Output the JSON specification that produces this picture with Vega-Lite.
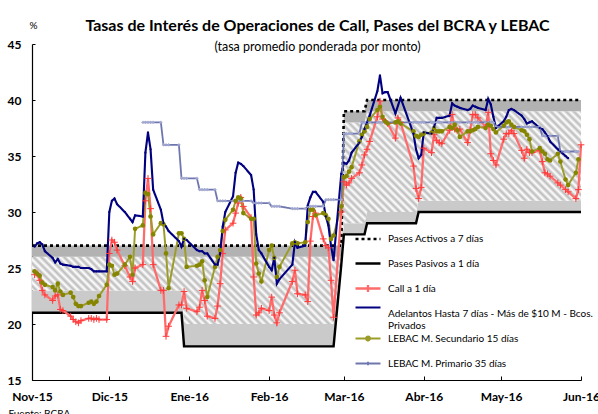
{
"$schema": "https://vega.github.io/schema/vega-lite/v6.json",
"width": 549, "height": 336, "autosize": "none",
"padding": {"left": 32, "top": 44, "right": 17, "bottom": 34},
"background": "white",
"config": {"view": {"stroke": null}, "font": "Lato"},
"title": {"text": "Tasas de Interés de Operaciones de Call, Pases del BCRA y LEBAC", "subtitle": "(tasa promedio ponderada por monto)", "font": "Lato", "fontSize": 16, "fontWeight": "bold", "color": "black", "subtitleFont": "Lato", "subtitleFontSize": 12.5, "subtitleColor": "black", "subtitlePadding": 7, "anchor": "middle", "offset": -33, "dx": 11},
"datasets": {
"corr": [
{"d":"2015-11-01","act7":27,"act1":26,"pas7":23,"pas1":21},
{"d":"2015-12-29","act7":27,"act1":26,"pas7":23,"pas1":21},
{"d":"2015-12-30","act7":27,"act1":26,"pas7":20,"pas1":18},
{"d":"2016-02-26","act7":27,"act1":26,"pas7":20,"pas1":18},
{"d":"2016-02-29","act7":27,"act1":26,"pas7":26,"pas1":25.3},
{"d":"2016-03-01","act7":39,"act1":38,"pas7":29,"pas1":28},
{"d":"2016-03-09","act7":39,"act1":38,"pas7":29,"pas1":28},
{"d":"2016-03-10","act7":40,"act1":39,"pas7":30,"pas1":29},
{"d":"2016-03-29","act7":40,"act1":39,"pas7":30,"pas1":29},
{"d":"2016-03-30","act7":40,"act1":39,"pas7":31,"pas1":30},
{"d":"2016-06-01","act7":40,"act1":39,"pas7":31,"pas1":30}
],
"ser": [
{"d":"2015-11-02","call":24.4,"adel":26.9,"lsec":24.7},
{"d":"2015-11-03","call":24.5,"adel":27.2,"lsec":24.5},
{"d":"2015-11-04","call":23.9,"adel":27.3,"lsec":24.3},
{"d":"2015-11-05","call":23.0,"adel":27.1,"lsec":23.7},
{"d":"2015-11-06","call":22.6,"adel":26.5,"lsec":23.5},
{"d":"2015-11-09","call":22.1,"adel":25.9,"lsec":23.3},
{"d":"2015-11-10","call":22.5,"adel":25.5,"lsec":23.0},
{"d":"2015-11-11","call":22.6,"adel":25.8,"lsec":23.6},
{"d":"2015-11-12","call":21.3,"adel":25.4,"lsec":22.9},
{"d":"2015-11-13","call":21.2,"adel":25.3,"lsec":22.6},
{"d":"2015-11-16","call":20.7,"adel":25.2,"lsec":22.8},
{"d":"2015-11-17","call":20.4,"adel":25.1,"lsec":22.4},
{"d":"2015-11-18","call":20.2,"adel":25.1,"lsec":21.8},
{"d":"2015-11-19","call":20.1,"adel":25.1,"lsec":21.6},
{"d":"2015-11-20","call":20.3,"adel":25.0,"lsec":21.6},
{"d":"2015-11-23","call":20.5,"adel":25.0,"lsec":21.9},
{"d":"2015-11-24","call":20.5,"adel":24.9,"lsec":22.0},
{"d":"2015-11-25","call":20.4,"adel":24.7,"lsec":21.8},
{"d":"2015-11-26","call":20.5,"adel":24.7,"lsec":22.0},
{"d":"2015-11-27","call":20.4,"adel":24.7,"lsec":22.5},
{"d":"2015-11-30","call":20.4,"adel":24.7,"lsec":23.5},
{"d":"2015-12-01","call":26.3,"adel":30.0,"lsec":25.3},
{"d":"2015-12-02","call":27.5,"adel":31.0,"lsec":25.2},
{"d":"2015-12-03","call":27.3,"adel":31.2,"lsec":24.4},
{"d":"2015-12-04","call":26.6,"adel":30.7,"lsec":24.5},
{"d":"2015-12-07","call":25.2,"adel":30.0,"lsec":25.3},
{"d":"2015-12-09","call":24.2,"adel":29.4,"lsec":26.0},
{"d":"2015-12-10","call":23.8,"adel":29.1,"lsec":24.4},
{"d":"2015-12-11","call":25.0,"adel":29.7,"lsec":28.5},
{"d":"2015-12-14","call":25.3,"adel":29.6,"lsec":28.8,"lpri":38},
{"d":"2015-12-15","call":31.0,"adel":35.3,"lsec":31.7,"lpri":38},
{"d":"2015-12-16","call":33.0,"adel":37.1,"lsec":31.6,"lpri":38},
{"d":"2015-12-17","call":30.3,"adel":35.6,"lsec":29.6,"lpri":38},
{"d":"2015-12-18","call":25.3,"adel":32.0,"lsec":28.0,"lpri":38},
{"d":"2015-12-21","call":23.0,"adel":30.2,"lsec":29.0,"lpri":38},
{"d":"2015-12-22","call":23.0,"adel":29.0,"lsec":28.9,"lpri":36},
{"d":"2015-12-23","call":18.9,"adel":28.7,"lsec":26.3,"lpri":36},
{"d":"2015-12-24","call":19.8,"adel":28.3,"lsec":23.2,"lpri":36},
{"d":"2015-12-28","call":21.7,"adel":27.4,"lsec":28.1,"lpri":36},
{"d":"2015-12-29","call":21.7,"adel":26.9,"lsec":28.1,"lpri":33},
{"d":"2015-12-30","call":22.9,"adel":27.6,"lsec":27.6,"lpri":33},
{"d":"2015-12-31","call":21.4,"adel":27.5,"lsec":25.1,"lpri":33},
{"d":"2016-01-04","call":21.1,"adel":26.6,"lsec":25.2,"lpri":33},
{"d":"2016-01-05","call":21.5,"adel":26.5,"lsec":25.3,"lpri":32},
{"d":"2016-01-06","call":23.0,"adel":26.5,"lsec":25.6,"lpri":32},
{"d":"2016-01-07","call":22.1,"adel":26.3,"lsec":23.9,"lpri":32},
{"d":"2016-01-08","call":20.7,"adel":26.3,"lsec":22.4,"lpri":32},
{"d":"2016-01-11","call":20.5,"adel":25.3,"lsec":25.1,"lpri":32},
{"d":"2016-01-12","call":21.6,"adel":25.3,"lsec":26.0,"lpri":31},
{"d":"2016-01-13","call":23.6,"adel":26.3,"lsec":26.6,"lpri":31},
{"d":"2016-01-14","call":26.3,"adel":28.7,"lsec":28.3,"lpri":31},
{"d":"2016-01-15","call":28.4,"adel":30.0,"lsec":29.3,"lpri":31},
{"d":"2016-01-18","call":29.0,"adel":31.4,"lsec":30.2,"lpri":31},
{"d":"2016-01-19","call":29.9,"adel":33.5,"lsec":31.0,"lpri":31},
{"d":"2016-01-20","call":30.8,"adel":34.4,"lsec":31.3,"lpri":31},
{"d":"2016-01-21","call":31.3,"adel":34.3,"lsec":31.2,"lpri":31},
{"d":"2016-01-22","call":30.5,"adel":34.1,"lsec":29.9,"lpri":31},
{"d":"2016-01-25","call":29.5,"adel":33.3,"lsec":29.4,"lpri":31},
{"d":"2016-01-26","call":24.2,"adel":32.0,"lsec":29.4,"lpri":30.8},
{"d":"2016-01-27","call":20.8,"adel":28.0,"lsec":25.4,"lpri":30.8},
{"d":"2016-01-28","call":21.0,"adel":26.6,"lsec":24.5,"lpri":30.8},
{"d":"2016-01-29","call":21.4,"adel":26.3,"lsec":23.8,"lpri":30.8},
{"d":"2016-02-01","call":21.2,"adel":25.1,"lsec":26.6,"lpri":30.8},
{"d":"2016-02-02","call":22.4,"adel":24.8,"lsec":27.0,"lpri":30.5},
{"d":"2016-02-03","call":20.8,"adel":25.9,"lsec":25.9,"lpri":30.5},
{"d":"2016-02-04","call":20.1,"adel":23.6,"lsec":24.2,"lpri":30.5},
{"d":"2016-02-05","call":21.0,"adel":24.0,"lsec":25.1,"lpri":30.5},
{"d":"2016-02-10","call":23.8,"adel":25.3,"lsec":27.2,"lpri":30.3},
{"d":"2016-02-11","call":24.8,"adel":27.3,"lsec":27.3,"lpri":30.3},
{"d":"2016-02-12","call":22.7,"adel":26.8,"lsec":27.2,"lpri":30.3},
{"d":"2016-02-15","call":22.6,"adel":27.0,"lsec":27.3,"lpri":30.3},
{"d":"2016-02-16","call":22.0,"adel":30.6,"lsec":29.1,"lpri":30.5},
{"d":"2016-02-17","call":27.4,"adel":31.3,"lsec":30.2,"lpri":30.5},
{"d":"2016-02-18","call":29.6,"adel":31.8,"lsec":30.2,"lpri":30.5},
{"d":"2016-02-19","call":29.9,"adel":31.8,"lsec":29.7,"lpri":30.5},
{"d":"2016-02-22","call":27.6,"adel":30.9,"lsec":29.9,"lpri":30.5},
{"d":"2016-02-23","call":27.0,"adel":29.6,"lsec":29.7,"lpri":31.1},
{"d":"2016-02-24","call":26.8,"adel":28.8,"lsec":29.4,"lpri":31.1},
{"d":"2016-02-25","call":23.9,"adel":27.0,"lsec":27.6,"lpri":31.1},
{"d":"2016-02-26","call":20.6,"adel":25.7,"lsec":27.9,"lpri":31.1},
{"d":"2016-02-29","call":30.0,"adel":33.4,"lsec":30.5,"lpri":31.1},
{"d":"2016-03-01","call":32.7,"adel":34.4,"lsec":33.1,"lpri":37},
{"d":"2016-03-02","call":32.4,"adel":34.3,"lsec":33.2,"lpri":37},
{"d":"2016-03-03","call":32.6,"adel":34.6,"lsec":33.6,"lpri":37},
{"d":"2016-03-04","call":33.0,"adel":35.3,"lsec":34.0,"lpri":37},
{"d":"2016-03-07","call":33.5,"adel":36.2,"lsec":36.3,"lpri":37},
{"d":"2016-03-08","call":34.2,"adel":36.7,"lsec":36.9,"lpri":38},
{"d":"2016-03-09","call":35.1,"adel":37.4,"lsec":37.2,"lpri":38},
{"d":"2016-03-10","call":35.6,"adel":38.0,"lsec":37.6,"lpri":38},
{"d":"2016-03-11","call":36.3,"adel":38.6,"lsec":38.3,"lpri":38},
{"d":"2016-03-14","call":38.5,"adel":40.8,"lsec":39.1,"lpri":38},
{"d":"2016-03-15","call":39.9,"adel":42.2,"lsec":39.4,"lpri":38},
{"d":"2016-03-16","call":38.3,"adel":40.6,"lsec":38.5,"lpri":38},
{"d":"2016-03-17","call":38.1,"adel":40.7,"lsec":38.1,"lpri":38},
{"d":"2016-03-18","call":37.9,"adel":40.7,"lsec":37.9,"lpri":38},
{"d":"2016-03-21","call":36.6,"adel":38.8,"lsec":38.0,"lpri":38},
{"d":"2016-03-22","call":38.4,"adel":39.5,"lsec":38.1,"lpri":38},
{"d":"2016-03-23","call":38.0,"adel":40.2,"lsec":37.9,"lpri":38},
{"d":"2016-03-28","call":34.1,"adel":37.0,"lsec":37.2,"lpri":38},
{"d":"2016-03-29","call":32.1,"adel":35.6,"lsec":36.8,"lpri":38},
{"d":"2016-03-30","call":31.2,"adel":34.8,"lsec":36.7,"lpri":38},
{"d":"2016-03-31","call":32.2,"adel":35.1,"lsec":36.9,"lpri":38},
{"d":"2016-04-01","call":35.7,"adel":37.1,"lsec":37.0,"lpri":38},
{"d":"2016-04-04","call":35.3,"adel":37.0,"lsec":37.1,"lpri":38},
{"d":"2016-04-05","call":36.9,"adel":37.6,"lsec":37.5,"lpri":38},
{"d":"2016-04-06","call":36.4,"adel":38.4,"lsec":37.2,"lpri":38},
{"d":"2016-04-07","call":36.2,"adel":38.4,"lsec":37.2,"lpri":38},
{"d":"2016-04-08","call":36.1,"adel":38.4,"lsec":37.2,"lpri":38},
{"d":"2016-04-11","call":37.3,"adel":38.6,"lsec":37.6,"lpri":38},
{"d":"2016-04-12","call":38.7,"adel":39.7,"lsec":37.5,"lpri":38},
{"d":"2016-04-13","call":37.4,"adel":39.5,"lsec":37.8,"lpri":38},
{"d":"2016-04-14","call":37.3,"adel":39.4,"lsec":37.3,"lpri":38},
{"d":"2016-04-15","call":37.4,"adel":39.3,"lsec":36.7,"lpri":38},
{"d":"2016-04-18","call":36.2,"adel":39.1,"lsec":37.2,"lpri":38},
{"d":"2016-04-19","call":37.3,"adel":39.2,"lsec":37.2,"lpri":38},
{"d":"2016-04-20","call":38.7,"adel":39.5,"lsec":37.3,"lpri":38},
{"d":"2016-04-21","call":38.7,"adel":39.4,"lsec":37.4,"lpri":38},
{"d":"2016-04-22","call":38.4,"adel":39.3,"lsec":37.6,"lpri":38},
{"d":"2016-04-25","call":37.6,"adel":39.1,"lsec":37.5,"lpri":38},
{"d":"2016-04-26","call":38.9,"adel":40.1,"lsec":37.8,"lpri":38},
{"d":"2016-04-27","call":35.2,"adel":39.6,"lsec":37.7,"lpri":38},
{"d":"2016-04-28","call":34.6,"adel":38.5,"lsec":37.4,"lpri":38},
{"d":"2016-04-29","call":34.2,"adel":37.5,"lsec":37.1,"lpri":37.6},
{"d":"2016-05-02","call":36.5,"adel":38.1,"lsec":37.7,"lpri":37.6},
{"d":"2016-05-03","call":37.0,"adel":38.5,"lsec":38.0,"lpri":37.6},
{"d":"2016-05-04","call":37.0,"adel":39.1,"lsec":38.1,"lpri":37.6},
{"d":"2016-05-05","call":37.3,"adel":39.2,"lsec":37.8,"lpri":37.6},
{"d":"2016-05-06","call":37.0,"adel":39.1,"lsec":37.6,"lpri":37.6},
{"d":"2016-05-09","call":35.5,"adel":38.6,"lsec":37.3,"lpri":37.6},
{"d":"2016-05-10","call":34.8,"adel":38.3,"lsec":37.2,"lpri":37.6},
{"d":"2016-05-11","call":35.6,"adel":37.9,"lsec":36.9,"lpri":37.6},
{"d":"2016-05-12","call":35.3,"adel":38.0,"lsec":36.5,"lpri":37.6},
{"d":"2016-05-13","call":35.3,"adel":38.1,"lsec":35.4,"lpri":37.6},
{"d":"2016-05-16","call":35.5,"adel":37.5,"lsec":35.7,"lpri":37.6},
{"d":"2016-05-17","call":34.5,"adel":37.4,"lsec":35.4,"lpri":36.8},
{"d":"2016-05-18","call":33.5,"adel":37.1,"lsec":35.2,"lpri":36.8},
{"d":"2016-05-19","call":33.4,"adel":36.8,"lsec":34.7,"lpri":36.8},
{"d":"2016-05-20","call":33.2,"adel":36.3,"lsec":34.6,"lpri":36.8},
{"d":"2016-05-23","call":32.6,"adel":35.6,"lsec":35.2,"lpri":36.8},
{"d":"2016-05-24","call":32.4,"adel":35.4,"lsec":34.5,"lpri":35.4},
{"d":"2016-05-26","call":32.0,"adel":35.0,"lsec":32.9,"lpri":35.4},
{"d":"2016-05-27","call":31.8,"adel":34.8,"lsec":32.4,"lpri":35.4},
{"d":"2016-05-30","call":31.2,"lsec":33.5,"lpri":35.4},
{"d":"2016-05-31","call":32.0,"lsec":34.7,"lpri":35.4},
{"d":"2016-06-01","call":36.0}
]
},
"encoding": {
  "x": {"field": "d", "type": "temporal", "title": "Fuente: BCRA",
        "scale": {"type": "utc", "domain": [{"year": 2015, "month": 11, "date": 1, "utc": true}, {"year": 2016, "month": 6, "date": 1, "utc": true}]},
        "axis": {"values": [{"year": 2015, "month": 11, "date": 1, "utc": true}, {"year": 2015, "month": 12, "date": 1, "utc": true}, {"year": 2016, "month": 1, "date": 1, "utc": true}, {"year": 2016, "month": 2, "date": 1, "utc": true}, {"year": 2016, "month": 3, "date": 1, "utc": true}, {"year": 2016, "month": 4, "date": 1, "utc": true}, {"year": 2016, "month": 5, "date": 1, "utc": true}, {"year": 2016, "month": 6, "date": 1, "utc": true}],
                 "labelExpr": "['Ene','Feb','Mar','Abr','May','Jun','Jul','Ago','Sep','Oct','Nov','Dic'][utcmonth(datum.value)] + '-' + utcFormat(datum.value, '%y')",
                 "grid": false, "domainColor": "black", "domainWidth": 1.2, "tickColor": "black", "tickSize": -4, "labelPadding": 15, "labelFlush": false, "labelOverlap": false,
                 "labelFont": "Lato", "labelFontWeight": "bold", "labelFontSize": 12, "labelColor": "black",
                 "titleX": -24, "titleY": 28, "titleAlign": "left", "titleAnchor": "start", "titleBaseline": "top", "titleFont": "Lato", "titleFontSize": 10, "titleFontWeight": "normal", "titleColor": "black"}}
},
"layer": [
{"data": {"name": "corr"},
 "mark": {"type": "area", "color": "#cacaca"},
 "encoding": {
  "y": {"field": "pas1", "type": "quantitative", "title": "%",
        "scale": {"domain": [15, 45], "zero": false, "nice": false},
        "axis": {"values": [15, 20, 25, 30, 35, 40, 45], "grid": false, "domainColor": "black", "domainWidth": 1.2, "tickColor": "black", "tickSize": -3, "labelPadding": 14,
                 "labelFont": "Lato", "labelFontWeight": "bold", "labelFontSize": 12, "labelColor": "black",
                 "titleAngle": 0, "titleX": 1, "titleY": -16, "titleAlign": "center", "titleBaseline": "alphabetic", "titleFont": "Lato", "titleFontSize": 10, "titleFontWeight": "normal", "titleColor": "black"}},
  "y2": {"field": "pas7"}
 }},
{"data": {"name": "corr"},
 "mark": {"type": "area", "fill": {"gradient": "linear", "x1": 0, "y1": 1, "x2": 1.2065, "y2": 0.532, "stops": [
{"offset":0,"color":"#bbb"},{"offset":0.005,"color":"#fff"},{"offset":0.01,"color":"#bbb"},{"offset":0.015,"color":"#fff"},{"offset":0.02,"color":"#bbb"},{"offset":0.025,"color":"#fff"},{"offset":0.03,"color":"#bbb"},{"offset":0.035,"color":"#fff"},{"offset":0.04,"color":"#bbb"},{"offset":0.045,"color":"#fff"},
{"offset":0.05,"color":"#bbb"},{"offset":0.055,"color":"#fff"},{"offset":0.06,"color":"#bbb"},{"offset":0.065,"color":"#fff"},{"offset":0.07,"color":"#bbb"},{"offset":0.075,"color":"#fff"},{"offset":0.08,"color":"#bbb"},{"offset":0.085,"color":"#fff"},{"offset":0.09,"color":"#bbb"},{"offset":0.095,"color":"#fff"},
{"offset":0.1,"color":"#bbb"},{"offset":0.105,"color":"#fff"},{"offset":0.11,"color":"#bbb"},{"offset":0.115,"color":"#fff"},{"offset":0.12,"color":"#bbb"},{"offset":0.125,"color":"#fff"},{"offset":0.13,"color":"#bbb"},{"offset":0.135,"color":"#fff"},{"offset":0.14,"color":"#bbb"},{"offset":0.145,"color":"#fff"},
{"offset":0.15,"color":"#bbb"},{"offset":0.155,"color":"#fff"},{"offset":0.16,"color":"#bbb"},{"offset":0.165,"color":"#fff"},{"offset":0.17,"color":"#bbb"},{"offset":0.175,"color":"#fff"},{"offset":0.18,"color":"#bbb"},{"offset":0.185,"color":"#fff"},{"offset":0.19,"color":"#bbb"},{"offset":0.195,"color":"#fff"},
{"offset":0.2,"color":"#bbb"},{"offset":0.205,"color":"#fff"},{"offset":0.21,"color":"#bbb"},{"offset":0.215,"color":"#fff"},{"offset":0.22,"color":"#bbb"},{"offset":0.225,"color":"#fff"},{"offset":0.23,"color":"#bbb"},{"offset":0.235,"color":"#fff"},{"offset":0.24,"color":"#bbb"},{"offset":0.245,"color":"#fff"},
{"offset":0.25,"color":"#bbb"},{"offset":0.255,"color":"#fff"},{"offset":0.26,"color":"#bbb"},{"offset":0.265,"color":"#fff"},{"offset":0.27,"color":"#bbb"},{"offset":0.275,"color":"#fff"},{"offset":0.28,"color":"#bbb"},{"offset":0.285,"color":"#fff"},{"offset":0.29,"color":"#bbb"},{"offset":0.295,"color":"#fff"},
{"offset":0.3,"color":"#bbb"},{"offset":0.305,"color":"#fff"},{"offset":0.31,"color":"#bbb"},{"offset":0.315,"color":"#fff"},{"offset":0.32,"color":"#bbb"},{"offset":0.325,"color":"#fff"},{"offset":0.33,"color":"#bbb"},{"offset":0.335,"color":"#fff"},{"offset":0.34,"color":"#bbb"},{"offset":0.345,"color":"#fff"},
{"offset":0.35,"color":"#bbb"},{"offset":0.355,"color":"#fff"},{"offset":0.36,"color":"#bbb"},{"offset":0.365,"color":"#fff"},{"offset":0.37,"color":"#bbb"},{"offset":0.375,"color":"#fff"},{"offset":0.38,"color":"#bbb"},{"offset":0.385,"color":"#fff"},{"offset":0.39,"color":"#bbb"},{"offset":0.395,"color":"#fff"},
{"offset":0.4,"color":"#bbb"},{"offset":0.405,"color":"#fff"},{"offset":0.41,"color":"#bbb"},{"offset":0.415,"color":"#fff"},{"offset":0.42,"color":"#bbb"},{"offset":0.425,"color":"#fff"},{"offset":0.43,"color":"#bbb"},{"offset":0.435,"color":"#fff"},{"offset":0.44,"color":"#bbb"},{"offset":0.445,"color":"#fff"},
{"offset":0.45,"color":"#bbb"},{"offset":0.455,"color":"#fff"},{"offset":0.46,"color":"#bbb"},{"offset":0.465,"color":"#fff"},{"offset":0.47,"color":"#bbb"},{"offset":0.475,"color":"#fff"},{"offset":0.48,"color":"#bbb"},{"offset":0.485,"color":"#fff"},{"offset":0.49,"color":"#bbb"},{"offset":0.495,"color":"#fff"},
{"offset":0.5,"color":"#bbb"},{"offset":0.505,"color":"#fff"},{"offset":0.51,"color":"#bbb"},{"offset":0.515,"color":"#fff"},{"offset":0.52,"color":"#bbb"},{"offset":0.525,"color":"#fff"},{"offset":0.53,"color":"#bbb"},{"offset":0.535,"color":"#fff"},{"offset":0.54,"color":"#bbb"},{"offset":0.545,"color":"#fff"},
{"offset":0.55,"color":"#bbb"},{"offset":0.555,"color":"#fff"},{"offset":0.56,"color":"#bbb"},{"offset":0.565,"color":"#fff"},{"offset":0.57,"color":"#bbb"},{"offset":0.575,"color":"#fff"},{"offset":0.58,"color":"#bbb"},{"offset":0.585,"color":"#fff"},{"offset":0.59,"color":"#bbb"},{"offset":0.595,"color":"#fff"},
{"offset":0.6,"color":"#bbb"},{"offset":0.605,"color":"#fff"},{"offset":0.61,"color":"#bbb"},{"offset":0.615,"color":"#fff"},{"offset":0.62,"color":"#bbb"},{"offset":0.625,"color":"#fff"},{"offset":0.63,"color":"#bbb"},{"offset":0.635,"color":"#fff"},{"offset":0.64,"color":"#bbb"},{"offset":0.645,"color":"#fff"},
{"offset":0.65,"color":"#bbb"},{"offset":0.655,"color":"#fff"},{"offset":0.66,"color":"#bbb"},{"offset":0.665,"color":"#fff"},{"offset":0.67,"color":"#bbb"},{"offset":0.675,"color":"#fff"},{"offset":0.68,"color":"#bbb"},{"offset":0.685,"color":"#fff"},{"offset":0.69,"color":"#bbb"},{"offset":0.695,"color":"#fff"},
{"offset":0.7,"color":"#bbb"},{"offset":0.705,"color":"#fff"},{"offset":0.71,"color":"#bbb"},{"offset":0.715,"color":"#fff"},{"offset":0.72,"color":"#bbb"},{"offset":0.725,"color":"#fff"},{"offset":0.73,"color":"#bbb"},{"offset":0.735,"color":"#fff"},{"offset":0.74,"color":"#bbb"},{"offset":0.745,"color":"#fff"},
{"offset":0.75,"color":"#bbb"},{"offset":0.755,"color":"#fff"},{"offset":0.76,"color":"#bbb"},{"offset":0.765,"color":"#fff"},{"offset":0.77,"color":"#bbb"},{"offset":0.775,"color":"#fff"},{"offset":0.78,"color":"#bbb"},{"offset":0.785,"color":"#fff"},{"offset":0.79,"color":"#bbb"},{"offset":0.795,"color":"#fff"},
{"offset":0.8,"color":"#bbb"},{"offset":0.805,"color":"#fff"},{"offset":0.81,"color":"#bbb"},{"offset":0.815,"color":"#fff"},{"offset":0.82,"color":"#bbb"},{"offset":0.825,"color":"#fff"},{"offset":0.83,"color":"#bbb"},{"offset":0.835,"color":"#fff"},{"offset":0.84,"color":"#bbb"},{"offset":0.845,"color":"#fff"},
{"offset":0.85,"color":"#bbb"},{"offset":0.855,"color":"#fff"},{"offset":0.86,"color":"#bbb"},{"offset":0.865,"color":"#fff"},{"offset":0.87,"color":"#bbb"},{"offset":0.875,"color":"#fff"},{"offset":0.88,"color":"#bbb"},{"offset":0.885,"color":"#fff"},{"offset":0.89,"color":"#bbb"},{"offset":0.895,"color":"#fff"},
{"offset":0.9,"color":"#bbb"},{"offset":0.905,"color":"#fff"},{"offset":0.91,"color":"#bbb"},{"offset":0.915,"color":"#fff"},{"offset":0.92,"color":"#bbb"},{"offset":0.925,"color":"#fff"},{"offset":0.93,"color":"#bbb"},{"offset":0.935,"color":"#fff"},{"offset":0.94,"color":"#bbb"},{"offset":0.945,"color":"#fff"},
{"offset":0.95,"color":"#bbb"},{"offset":0.955,"color":"#fff"},{"offset":0.96,"color":"#bbb"},{"offset":0.965,"color":"#fff"},{"offset":0.97,"color":"#bbb"},{"offset":0.975,"color":"#fff"},{"offset":0.98,"color":"#bbb"},{"offset":0.985,"color":"#fff"},{"offset":0.99,"color":"#bbb"},{"offset":0.995,"color":"#fff"},
{"offset":1,"color":"#bbb"}]}},
 "encoding": {"y": {"field": "pas7", "type": "quantitative", "title": "%"}, "y2": {"field": "act1"}}},
{"data": {"name": "corr"},
 "mark": {"type": "area", "color": "#b2b2b2"},
 "encoding": {"y": {"field": "act1", "type": "quantitative", "title": "%"}, "y2": {"field": "act7"}}},
{"data": {"name": "corr"},
 "transform": [{"fold": ["act7", "pas1"], "as": ["s", "v"]}],
 "mark": {"type": "line", "strokeCap": "butt", "invalid": "filter"},
 "encoding": {
  "y": {"field": "v", "type": "quantitative", "title": "%"},
  "color": {"field": "s", "type": "nominal",
    "scale": {"domain": ["act7", "pas1", "call", "adel", "lsec", "lpri"], "range": ["#000000", "#000000", "#ff6b6b", "#000080", "#9c9c2a", "#6e76b0"]},
    "legend": {"title": null, "orient": "none", "legendX": 328, "legendY": 187, "padding": 0, "symbolSize": 156, "symbolType": "stroke", "labelFont": "Lato", "labelFontSize": 10, "labelColor": "black", "labelLimit": 400, "labelOffset": 12, "rowPadding": -3.8, "gridAlign": "all",
      "labelExpr": "{'act7':'Pases Activos a 7 días','pas1':'Pases Pasivos a 1 día','call':'Call a 1 día','adel':['Adelantos Hasta 7 días - Más de $10 M - Bcos.','Privados'],'lsec':'LEBAC M. Secundario 15 días','lpri':'LEBAC M. Primario 35 días'}[datum.value]",
      "encode": {"symbols": {"update": {"shape": {"signal": "datum.value==='call' ? 'M-2,0H2M0,-0.56V0.56M-0.56,0H0.56' : datum.value==='lsec' ? 'M-2,0H2M-0.32,0A0.32,0.32,0,1,1,0.32,0A0.32,0.32,0,1,1,-0.32,0' : datum.value==='lpri' ? 'M-2,0H2M0,-0.28V0.28' : datum.value==='adel' ? 'M-2,-0.96H2' : 'M-2,0H2'"}, "strokeWidth": {"signal": "datum.value==='act7' ? 2.5 : 1.5"}}},
                 "labels": {"update": {"lineHeight": {"value": 12}}}}}},
  "strokeDash": {"field": "s", "type": "nominal", "scale": {"domain": ["act7", "pas1", "call", "adel", "lsec", "lpri"], "range": [[3, 3], [1, 0], [1, 0], [1, 0], [1, 0], [1, 0]]}, "legend": null},
  "strokeWidth": {"field": "s", "type": "nominal", "scale": {"domain": ["act7", "pas1", "call", "adel", "lsec", "lpri"], "range": [2.6, 1.8, 1.2, 1.6, 1.2, 1.5]}, "legend": null}
 }},
{"data": {"name": "ser"},
 "transform": [{"fold": ["call", "lsec", "lpri", "adel"], "as": ["s", "v"]}],
 "mark": {"type": "line", "invalid": "filter"},
 "encoding": {
  "y": {"field": "v", "type": "quantitative", "title": "%"},
  "color": {"field": "s", "type": "nominal",
    "scale": {"domain": ["act7", "pas1", "call", "adel", "lsec", "lpri"], "range": ["#000000", "#000000", "#ff6b6b", "#000080", "#9c9c2a", "#6e76b0"]},
    "legend": {"title": null, "orient": "none", "legendX": 328, "legendY": 187, "padding": 0, "symbolSize": 156, "symbolType": "stroke", "labelFont": "Lato", "labelFontSize": 10, "labelColor": "black", "labelLimit": 400, "labelOffset": 12, "rowPadding": -3.8, "gridAlign": "all",
      "labelExpr": "{'act7':'Pases Activos a 7 días','pas1':'Pases Pasivos a 1 día','call':'Call a 1 día','adel':['Adelantos Hasta 7 días - Más de $10 M - Bcos.','Privados'],'lsec':'LEBAC M. Secundario 15 días','lpri':'LEBAC M. Primario 35 días'}[datum.value]",
      "encode": {"symbols": {"update": {"shape": {"signal": "datum.value==='call' ? 'M-2,0H2M0,-0.56V0.56M-0.56,0H0.56' : datum.value==='lsec' ? 'M-2,0H2M-0.32,0A0.32,0.32,0,1,1,0.32,0A0.32,0.32,0,1,1,-0.32,0' : datum.value==='lpri' ? 'M-2,0H2M0,-0.28V0.28' : datum.value==='adel' ? 'M-2,-0.96H2' : 'M-2,0H2'"}, "strokeWidth": {"signal": "datum.value==='act7' ? 2.5 : 1.5"}}},
                 "labels": {"update": {"lineHeight": {"value": 12}}}}}},
  "strokeDash": {"field": "s", "type": "nominal", "scale": {"domain": ["act7", "pas1", "call", "adel", "lsec", "lpri"], "range": [[3, 3], [1, 0], [1, 0], [1, 0], [1, 0], [1, 0]]}, "legend": null},
  "strokeWidth": {"field": "s", "type": "nominal", "scale": {"domain": ["act7", "pas1", "call", "adel", "lsec", "lpri"], "range": [2.6, 1.8, 1.2, 1.6, 1.2, 1.5]}, "legend": null}
 }},
{"data": {"name": "ser"},
 "mark": {"type": "point", "shape": "M-1,0H1M0,-1V1", "filled": false, "stroke": "#ff3b3b", "strokeWidth": 1, "size": 45, "opacity": 1, "invalid": "filter"},
 "encoding": {"y": {"field": "call", "type": "quantitative", "title": "%"}}},
{"data": {"name": "ser"},
 "mark": {"type": "point", "shape": "M-1,0H1M0,-1V1", "filled": false, "stroke": "#a3a9d0", "strokeWidth": 1, "size": 10, "opacity": 1, "invalid": "filter"},
 "encoding": {"y": {"field": "lpri", "type": "quantitative", "title": "%"}}},
{"data": {"name": "ser"},
 "mark": {"type": "point", "shape": "circle", "filled": true, "color": "#858500", "size": 22, "opacity": 1, "invalid": "filter"},
 "encoding": {"y": {"field": "lsec", "type": "quantitative", "title": "%"}}},
{"data": {"name": "ser"},
 "mark": {"type": "point", "shape": "circle", "filled": true, "color": "#000080", "size": 5, "opacity": 1, "invalid": "filter"},
 "encoding": {"y": {"field": "adel", "type": "quantitative", "title": "%"}}}
]
}
